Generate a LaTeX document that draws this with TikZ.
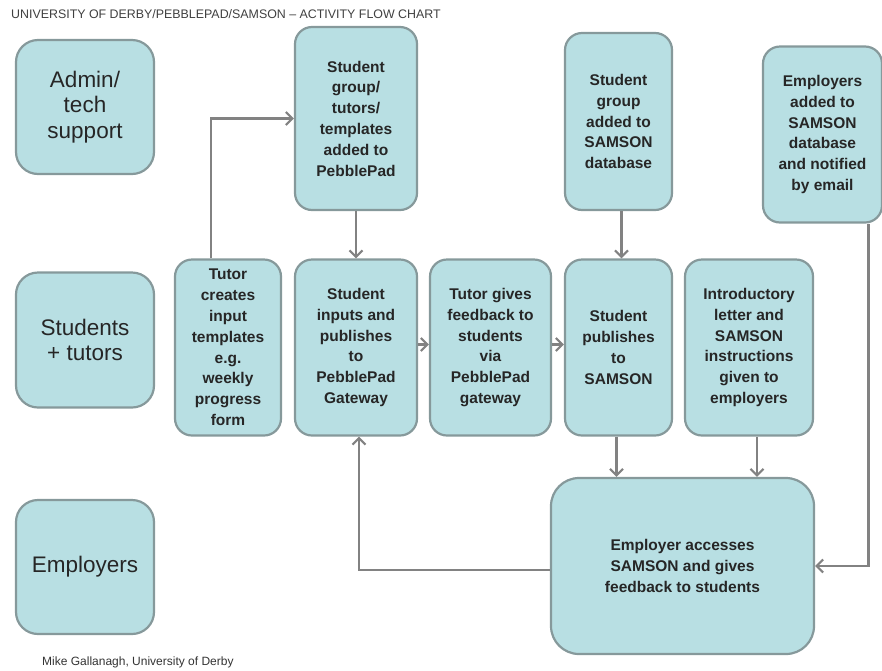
\documentclass[tikz,border=0pt]{standalone}
\usepackage{fontspec}
\setmainfont{Liberation Sans}
\usetikzlibrary{arrows.meta}
\definecolor{boxfill}{HTML}{B8DFE3}
\definecolor{boxline}{HTML}{86999B}
\definecolor{arrowgrey}{HTML}{828282}

\begin{document}
\begin{tikzpicture}[x=1pt,y=-1pt,
   box/.style={draw=boxline,fill=boxfill,line width=2.2pt,rounded corners=17pt,
      align=center,inner sep=0pt,text=black!85,
      font=\fontsize{15.5}{20.8}\selectfont\bfseries},
   lane/.style={box,rounded corners=22pt,font=\fontsize{22.5}{25.5}\selectfont},
   flow/.style={-{Straight Barb[length=6.5pt,width=13pt,line width=2.2pt]},
      draw=arrowgrey,line width=2.4pt}]
   \useasboundingbox (0,0) rectangle (882,670);

   \node[anchor=base west,inner sep=0pt,text=black!75,font=\fontsize{12.4}{14}\selectfont] (title) at (11,18)
      {UNIVERSITY OF DERBY/PEBBLEPAD/SAMSON -- ACTIVITY FLOW CHART};

   % swim lanes
   \node[lane,minimum width=138pt,minimum height=134pt] (admin) at (85,107) {Admin/\\tech\\support};
   \node[lane,minimum width=138pt,minimum height=135pt] (lstud) at (85,340) {Students\\+ tutors};
   \node[lane,minimum width=138pt,minimum height=134pt] (lemp) at (85,567) {Employers};

   % top row
   \node[box,minimum width=122pt,minimum height=183pt] (pp) at (356,118.5)
      {Student\\group/\\tutors/\\templates\\added to\\PebblePad};
   \node[box,minimum width=107pt,minimum height=177pt] (sgdb) at (618.5,121.5)
      {Student\\group\\added to\\SAMSON\\database};
   \node[box,minimum width=119pt,minimum height=176pt] (empdb) at (822.5,134.5)
      {Employers\\added to\\SAMSON\\database\\and notified\\by email};

   % middle row
   \node[box,minimum width=106pt,minimum height=176pt] (tutor) at (228,347.5)
      {Tutor\\creates\\input\\templates\\e.g.\\weekly\\progress\\form};
   \node[box,minimum width=122pt,minimum height=176pt] (inputs) at (356,347.5)
      {Student\\inputs and\\publishes\\to\\PebblePad\\Gateway};
   \node[box,minimum width=121pt,minimum height=176pt] (feedback) at (490.5,347.5)
      {Tutor gives\\feedback to\\students\\via\\PebblePad\\gateway};
   \node[box,minimum width=107pt,minimum height=176pt] (publish) at (618.5,347.5)
      {Student\\publishes\\to\\SAMSON};
   \node[box,minimum width=128pt,minimum height=176pt] (intro) at (749,347.5)
      {Introductory\\letter and\\SAMSON\\instructions\\given to\\employers};

   % bottom
   \node[box,rounded corners=28pt,minimum width=263pt,minimum height=176pt] (emp) at (682.5,566)
      {Employer accesses\\SAMSON and gives\\feedback to students};

   \node[anchor=base west,inner sep=0pt,text=black!80,font=\fontsize{12}{15}\selectfont] (author) at (42,665)
      {Mike Gallanagh, University of Derby};

   \draw[flow] ([xshift=-17pt]tutor.north) |- (pp.west);
   \draw[flow] (pp) -- (inputs);
   \draw[flow] ([yshift=3pt]inputs.east) -- ([yshift=3pt]feedback.west);
   \draw[flow] ([yshift=3pt]feedback.east) -- ([yshift=3pt]publish.west);
   \draw[flow] ([xshift=3pt]sgdb.south) -- ([xshift=3pt]publish.north);
   \draw[flow] ([xshift=-2pt]publish.south) -- ([xshift=-2pt]publish.south |- emp.north);
   \draw[flow] ([xshift=8pt]intro.south) -- ([xshift=8pt]intro.south |- emp.north);
   \draw[flow] ([xshift=46pt]empdb.south) |- (emp.east);
   \draw[flow] ([yshift=-4pt]emp.west) -| ([xshift=3pt]inputs.south);
\end{tikzpicture}
\end{document}
